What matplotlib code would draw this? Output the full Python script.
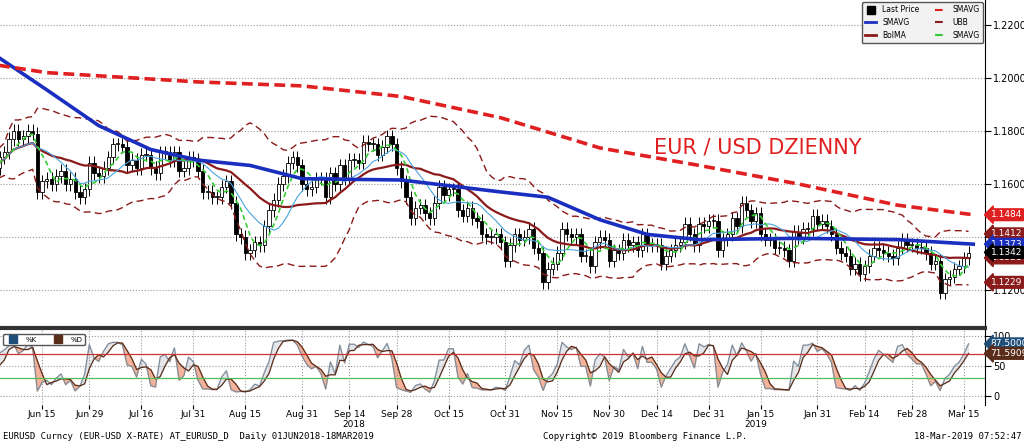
import numpy as np
import pandas as pd
import matplotlib
matplotlib.use("Agg")
import matplotlib.pyplot as plt

# daily closes, Jun 2018 .. 18 Mar 2019
close = [
    # Jun
    1.166, 1.170, 1.172, 1.177, 1.180, 1.177, 1.178, 1.180, 1.179, 1.157, 1.161,
    1.162, 1.160, 1.163, 1.165, 1.160, 1.162, 1.157, 1.155, 1.158, 1.168,
    # Jul
    1.164, 1.163, 1.166, 1.170, 1.175, 1.175, 1.174, 1.167, 1.169, 1.166, 1.171,
    1.171, 1.166, 1.164, 1.172, 1.172, 1.169, 1.172, 1.165, 1.166, 1.170, 1.169,
    # Aug
    1.165, 1.157, 1.157, 1.155, 1.155, 1.159, 1.161, 1.153, 1.141, 1.140, 1.134,
    1.135, 1.138, 1.137, 1.144, 1.150, 1.154, 1.160, 1.163, 1.168, 1.170, 1.167, 1.160,
    # Sep
    1.158, 1.159, 1.162, 1.162, 1.155, 1.164, 1.160, 1.167, 1.162, 1.169,
    1.169, 1.168, 1.176, 1.175, 1.175, 1.171, 1.174, 1.178, 1.175, 1.166,
    # Oct
    1.161, 1.155, 1.147, 1.151, 1.152, 1.149, 1.147, 1.153, 1.159, 1.156, 1.158,
    1.158, 1.150, 1.148, 1.151, 1.147, 1.146, 1.141, 1.140, 1.140, 1.141, 1.138, 1.131,
    # Nov
    1.137, 1.141, 1.139, 1.140, 1.143, 1.136, 1.134, 1.123, 1.128, 1.130, 1.134,
    1.143, 1.141, 1.140, 1.141, 1.133, 1.133, 1.129, 1.138, 1.140, 1.139, 1.131,
    # Dec
    1.135, 1.134, 1.139, 1.137, 1.138, 1.135, 1.141, 1.137, 1.137, 1.137, 1.130,
    1.133, 1.135, 1.137, 1.138, 1.145, 1.141, 1.137, 1.145, 1.144, 1.146,
    # Jan
    1.146, 1.135, 1.139, 1.141, 1.147, 1.144, 1.153, 1.150, 1.146, 1.149, 1.141,
    1.139, 1.139, 1.136, 1.136, 1.135, 1.131, 1.142, 1.140, 1.143, 1.143, 1.148, 1.145,
    # Feb
    1.146, 1.144, 1.141, 1.136, 1.134, 1.133, 1.128, 1.130, 1.126, 1.129,
    1.133, 1.136, 1.135, 1.134, 1.133, 1.132, 1.136, 1.139, 1.137, 1.137,
    # Mar
    1.136, 1.136, 1.134, 1.130, 1.131, 1.119, 1.124, 1.125, 1.128, 1.129, 1.132, 1.134,
]
first_open = 1.169

# long moving averages (need history before the window), read at sparse days
sma200_day = [0, 11, 43, 65, 86, 107, 128, 149, 170, 191, 207]
sma200_val = [1.2050, 1.2020, 1.1985, 1.1970, 1.1930, 1.1850, 1.1736, 1.1670, 1.1600, 1.1520, 1.1484]
sma50_day = [0, 11, 22, 33, 43, 54, 65, 86, 107, 117, 128, 138, 149, 170, 191, 207]
sma50_val = [1.2087, 1.1955, 1.1820, 1.1730, 1.1690, 1.1670, 1.1620, 1.1615, 1.1570, 1.1550,
             1.1465, 1.1410, 1.1390, 1.1395, 1.1390, 1.1373]

tick_dates = ["2018-06-15", "2018-06-29", "2018-07-16", "2018-07-31", "2018-08-15",
              "2018-08-31", "2018-09-14", "2018-09-28", "2018-10-15", "2018-10-31",
              "2018-11-15", "2018-11-30", "2018-12-14", "2018-12-31", "2019-01-15",
              "2019-01-31", "2019-02-14", "2019-02-28", "2019-03-15"]
tick_text = ["Jun 15", "Jun 29", "Jul 16", "Jul 31", "Aug 15", "Aug 31", "Sep 14", "Sep 28",
             "Oct 15", "Oct 31", "Nov 15", "Nov 30", "Dec 14", "Dec 31", "Jan 15", "Jan 31",
             "Feb 14", "Feb 28", "Mar 15"]

c = pd.Series(close)
o = pd.Series([first_open] + close[:-1])
hi = np.maximum(o, c) + 0.0025
lo = np.minimum(o, c) - 0.0025
n = len(close)
x = np.arange(n)
dates = pd.bdate_range("2018-06-01", periods=n)

mid = c.rolling(20, min_periods=1).mean()
sd = c.rolling(20, min_periods=2).std().bfill()
ubb = mid + 2 * sd
lbb = mid - 2 * sd
sma5 = c.rolling(5, min_periods=1).mean()
sma10 = c.rolling(10, min_periods=1).mean()

hh = hi.rolling(9, min_periods=1).max()
ll = lo.rolling(9, min_periods=1).min()
k = 100 * (c - ll) / (hh - ll)
d = k.rolling(3, min_periods=1).mean()

fig = plt.figure(figsize=(10.24, 4.41), dpi=100)
ax = fig.add_axes([0.0, 0.263, 0.962, 0.737])
ax2 = fig.add_axes([0.0, 0.082, 0.962, 0.169])

for a in (ax, ax2):
    a.yaxis.tick_right()
    a.grid(True, color="#999999", linestyle=":", linewidth=0.8)
    for s in ("top", "left", "bottom"):
        a.spines[s].set_visible(False)
    a.tick_params(axis="y", labelsize=7, direction="out", length=4, pad=2)
    a.set_xlim(1.1, 209.5)

# candles
for i in range(n):
    up = c[i] >= o[i]
    ax.vlines(x[i], lo[i], hi[i], color="black", linewidth=0.7, zorder=3)
    ax.bar(x[i], abs(c[i] - o[i]) or 0.0003, bottom=min(o[i], c[i]), width=0.7,
           color="white" if up else "black", edgecolor="black", linewidth=0.6, zorder=4)

ax.plot(x, ubb, color="#8b1a1a", linestyle=(0, (5, 3)), linewidth=1.0, zorder=5)
ax.plot(x, lbb, color="#8b1a1a", linestyle=(0, (5, 3)), linewidth=1.0, zorder=5)
ax.plot(x, mid, color="#8b1a1a", linewidth=1.6, zorder=5)
ax.plot(x, sma10, color="#4aa3df", linewidth=0.8, zorder=5)
ax.plot(x, sma5, color="#33cc33", linestyle=(0, (3, 2)), linewidth=1.2, zorder=6)
ax.plot(sma50_day, sma50_val, color="#1a2fbf", linewidth=2.6, zorder=6)
ax.plot(sma200_day, sma200_val, color="#e02020", linestyle=(0, (3, 1.5)), linewidth=2.6, zorder=6)

ax.set_ylim(1.1068, 1.2294)
ax.set_yticks([1.12, 1.14, 1.16, 1.18, 1.20, 1.22])
ax.set_yticklabels(["1.1200", "", "1.1600", "1.1800", "1.2000", "1.2200"])
ax.set_xticks([])
ax.text(0.664, 0.545, "EUR / USD DZIENNY", transform=ax.transAxes, color="#e02020",
        fontsize=15, va="center")

labels = [(1.1484, "1.1484", "#e02020"), (1.1412, "1.1412", "#8b1a1a"),
          (1.1373, "1.1373", "#1a2fbf"), (1.1321, "1.1321", "#8b1a1a"),
          (1.1342, "1.1342", "black"), (1.1229, "1.1229", "#8b1a1a")]
for yv, t, col in labels:
    ax.annotate(t, xy=(1.0, yv), xycoords=("axes fraction", "data"), xytext=(4, 0),
                textcoords="offset points", va="center", fontsize=6.5, color="white",
                bbox=dict(boxstyle="larrow,pad=0.15", fc=col, ec=col))

leg = ax.legend(handles=[plt.Line2D([], [], color="black", marker="s", linestyle="", label="Last Price"),
                         plt.Line2D([], [], color="#1a2fbf", linewidth=2, label="SMAVG"),
                         plt.Line2D([], [], color="#8b1a1a", linewidth=2, label="BolMA"),
                         plt.Line2D([], [], color="#e02020", linestyle="--", label="SMAVG"),
                         plt.Line2D([], [], color="#8b1a1a", linestyle="--", label="UBB"),
                         plt.Line2D([], [], color="#33cc33", linestyle="--", label="SMAVG")],
                loc="upper right", ncol=2, fontsize=5.5, framealpha=1, facecolor="#f2f2f2",
                edgecolor="#555555", borderaxespad=0.3, handlelength=1.5)
leg.get_frame().set_linewidth(1)

# stochastics
ax2.plot(x, k, color="#7f8c9a", linewidth=0.9)
ax2.plot(x, d, color="#5a2d1a", linewidth=0.9)
ax2.fill_between(x, k, d, where=k >= d, interpolate=True, color="#e4e6ea")
ax2.fill_between(x, k, d, where=k < d, interpolate=True, color="#f4b39a")
ax2.axhline(70, color="#cc3333", linewidth=0.9)
ax2.axhline(30, color="#55bb55", linewidth=0.9)
ax2.set_ylim(-14, 110)
ax2.set_yticks([0, 50, 100])
pos = [dates.get_loc(pd.Timestamp(t)) for t in tick_dates]
ax2.set_xticks(pos)
ax2.set_xticklabels(tick_text, fontsize=6.5)
ax2.tick_params(axis="x", length=3, pad=1)
for p, yr in [(pos[6] + 1, "2018"), (pos[14] - 1, "2019")]:
    ax2.annotate(yr, xy=(p, 0), xycoords=("data", "axes fraction"), xytext=(0, -14),
                 textcoords="offset points", fontsize=6.5, ha="center", va="center")
for yv, t, col in [(k.iloc[-1], "%.4f" % k.iloc[-1], "#1f4e79"), (d.iloc[-1], "%.4f" % d.iloc[-1], "#5a2d1a")]:
    ax2.annotate(t, xy=(1.0, yv), xycoords=("axes fraction", "data"), xytext=(4, 0),
                 textcoords="offset points", va="center", fontsize=6.5, color="white",
                 bbox=dict(boxstyle="larrow,pad=0.15", fc=col, ec=col))
ax2.legend(handles=[plt.Line2D([], [], color="#1f4e79", marker="s", linestyle="", label="%K"),
                    plt.Line2D([], [], color="#5a2d1a", marker="s", linestyle="", label="%D")],
           loc="upper left", ncol=2, fontsize=5, framealpha=1, edgecolor="#555555")

fig.add_artist(plt.Line2D([0, 0.962], [0.257, 0.257], color="#333333", linewidth=3))
fig.text(0.003, 0.004, "EURUSD Curncy (EUR-USD X-RATE) AT_EURUSD_D  Daily 01JUN2018-18MAR2019",
         fontsize=6.5, family="DejaVu Sans Mono")
fig.text(0.53, 0.004, "Copyright\u00a9 2019 Bloomberg Finance L.P.", fontsize=6.5, family="DejaVu Sans Mono")
fig.text(0.998, 0.004, "18-Mar-2019 07:52:47", fontsize=6.5, ha="right", family="DejaVu Sans Mono")

fig.savefig("out.png", dpi=100, facecolor="white")
